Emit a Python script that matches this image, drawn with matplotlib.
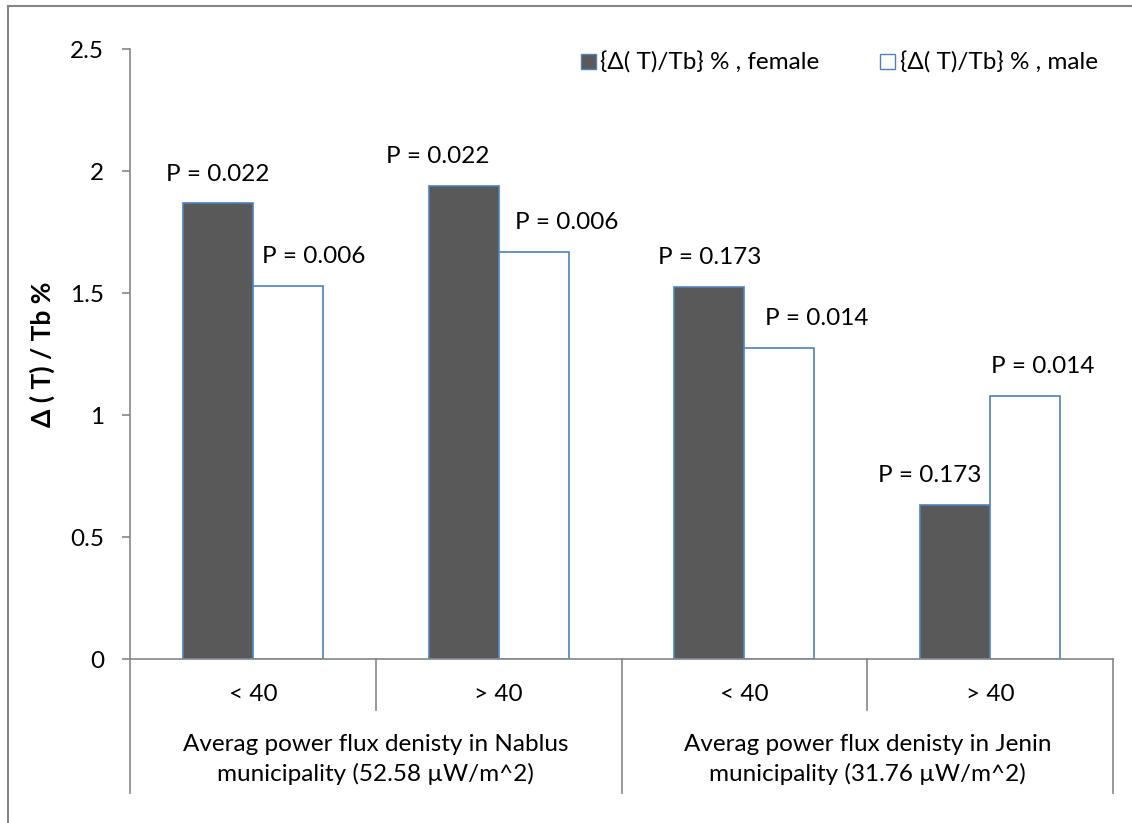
import matplotlib.pyplot as plt
from matplotlib.lines import Line2D
from matplotlib.patches import Patch
import matplotlib.transforms as mtransforms

plt.rcParams['font.family'] = ['Lato', 'DejaVu Sans']

# data
ages = ['< 40', '> 40', '< 40', '> 40']
groups = ['Averag power flux denisty in Nablus\nmunicipality (52.58 \u00b5W/m^2)',
          'Averag power flux denisty in Jenin\nmunicipality (31.76 \u00b5W/m^2)']
female = [1.868, 1.939, 1.525, 0.631]
male = [1.530, 1.668, 1.275, 1.079]
female_p = ['P = 0.022', 'P = 0.022', 'P = 0.173', 'P = 0.173']
male_p = ['P = 0.006', 'P = 0.006', 'P = 0.014', 'P = 0.014']
labels = ['{\u0394( T)/Tb} % , female', '{\u0394( T)/Tb} % , male']

dark = '#595959'
blue = '#4F81BD'
grey = '#868686'
fs = 17.5

fig = plt.figure(figsize=(11.32, 8.23), dpi=100)
ax = fig.add_axes([130/1132, 1-659/823, (1113-130)/1132, 610/823])

w = 0.285
x = [i + 0.5 for i in range(len(ages))]
ax.bar([v - w/2 for v in x], female, width=w, color=dark, edgecolor=blue, linewidth=1.2)
ax.bar([v + w/2 for v in x], male, width=w, color='white', edgecolor=blue, linewidth=1.2)

# p-value labels (Excel nudged some of them sideways)
f_dx = [0, -26, 0, -25]
m_dx = [26, 33, 37, 18]
for i in range(len(x)):
    ax.annotate(female_p[i], (x[i] - w/2, female[i]), xytext=(f_dx[i]*0.72, 21),
                textcoords='offset points', ha='center', va='center', fontsize=fs)
    ax.annotate(male_p[i], (x[i] + w/2, male[i]), xytext=(m_dx[i]*0.72, 21),
                textcoords='offset points', ha='center', va='center', fontsize=fs)

ax.set_xlim(0, len(ages))
ax.set_ylim(0, 2.5)
ax.set_yticks([0, 0.5, 1, 1.5, 2, 2.5])
ax.set_yticklabels(['0', '0.5', '1', '1.5', '2', '2.5'])
ax.tick_params(axis='y', length=5.8, width=1.2, color=grey, pad=13, labelsize=fs)
ax.set_xticks([])
for s in ['top', 'right']:
    ax.spines[s].set_visible(False)
for s in ['left', 'bottom']:
    ax.spines[s].set_color(grey)
    ax.spines[s].set_linewidth(1.2)

# multi-level category axis
trans = mtransforms.blended_transform_factory(ax.transData, ax.transAxes)
for i in range(len(ages) + 1):
    depth = -0.22 if i % 2 == 0 else -0.084
    ax.add_line(Line2D([i, i], [0, depth], transform=trans, color=grey,
                       linewidth=1.2, clip_on=False))
for i, a in enumerate(ages):
    ax.text(x[i], -0.058, a, transform=trans, ha='center', va='center', fontsize=fs)
for j, g in enumerate(groups):
    ax.text(2*j + 1, -0.165, g, transform=trans, ha='center', va='center',
            fontsize=fs, linespacing=1.45)

fig.text(42/1132, 1-354/823, '\u0394 ( T) / Tb %', rotation=90, ha='center', va='center',
         fontsize=19, fontweight='bold')

handles = [Patch(facecolor=dark, edgecolor=blue), Patch(facecolor='white', edgecolor=blue)]
fig.legend(handles, labels, loc='center left', bbox_to_anchor=(581/1132, 1-63/823),
           ncol=2, frameon=False, fontsize=fs, handlelength=0.6, handleheight=0.6,
           handletextpad=0.2, columnspacing=2.5, borderaxespad=0, borderpad=0)

# outer chart border (left and top only visible)
fig.add_artist(Line2D([8/1132, 8/1132], [0, 1-6/823], color=grey, linewidth=1.5))
fig.add_artist(Line2D([8/1132, 1], [1-6/823, 1-6/823], color=grey, linewidth=1.5))

fig.savefig('out.png', dpi=100)
